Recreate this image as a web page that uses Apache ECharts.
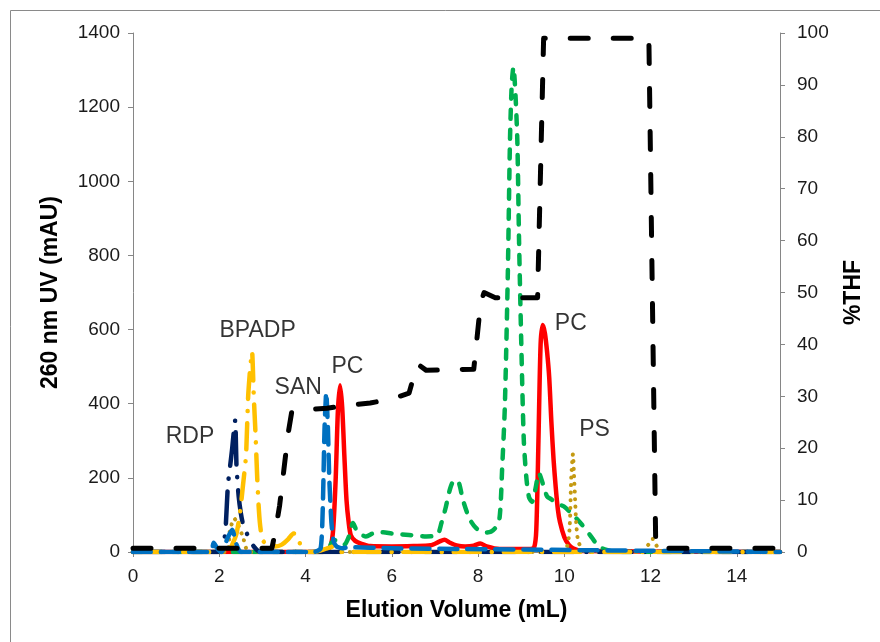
<!DOCTYPE html>
<html>
<head>
<meta charset="utf-8">
<script src="https://cdn.jsdelivr.net/npm/echarts@6/dist/echarts.min.js"></script>
<style>
html,body{margin:0;padding:0;background:#fff;}
#chart{width:880px;height:642px;}
</style>
</head>
<body>
<div id="chart"></div>
<script>
// ---- Data (elution volume in mL, UV in mAU, THF in %) ----
const xTicks = [0, 2, 4, 6, 8, 10, 12, 14];

const rdpX = [0, 1.95, 2.05, 2.1, 2.15, 2.2, 2.25, 2.3, 2.35, 2.37, 2.4, 2.45, 2.5, 2.55, 2.62, 2.7, 2.8, 2.95, 15];
const rdpY = [0, 0, 5, 15, 70, 180, 230, 280, 340, 356, 230, 150, 105, 75, 55, 35, 15, 0, 0];

const bpadpX = [0, 2.2, 2.3, 2.4, 2.48, 2.55, 2.62, 2.67, 2.72, 2.76, 2.8, 2.84, 2.88, 2.92, 2.96, 3.02, 3.1, 3.2, 3.3, 3.45, 3.6, 3.72, 3.82, 3.9, 4.0, 4.2, 4.5, 4.65, 4.8, 15];
const bpadpY = [0, 0, 20, 50, 105, 180, 260, 420, 500, 540, 420, 320, 200, 110, 60, 30, 20, 25, 15, 20, 35, 50, 45, 10, 0, 0, 10, 15, 0, 0];

const sanX = [0, 1.8, 1.87, 1.95, 2.05, 2.2, 2.3, 2.4, 2.5, 4.2, 4.35, 4.4, 4.44, 4.48, 4.52, 4.55, 4.6, 4.65, 4.72, 4.85, 5.0, 6.0, 15];
const sanY = [0, 0, 25, 10, 0, 40, 60, 20, 0, 0, 10, 120, 330, 430, 330, 200, 80, 30, 15, 10, 13, 10, 0];

const pcX = [0, 4.4, 4.5, 4.58, 4.64, 4.7, 4.75, 4.8, 4.85, 4.9, 4.95, 5.0, 5.05, 5.15, 5.3, 5.5, 6.0, 6.5, 6.9, 7.1, 7.22, 7.35, 7.5, 7.7, 7.9, 8.05, 8.2, 8.5, 9.2, 9.3, 9.35, 9.4, 9.45, 9.5, 9.55, 9.6, 9.65, 9.7, 9.75, 9.8, 9.85, 9.9, 10.0, 10.1, 10.2, 10.4, 15];
const pcY = [0, 0, 5, 15, 60, 200, 380, 450, 390, 260, 140, 80, 45, 30, 22, 16, 15, 16, 18, 28, 33, 25, 18, 15, 17, 23, 15, 8, 8, 12, 60, 300, 560, 612, 590, 540, 470, 350, 250, 175, 115, 80, 40, 20, 10, 3, 0];

const mixX = [0, 4.5, 4.6, 4.7, 4.8, 4.9, 5.0, 5.1, 5.2, 5.4, 5.6, 5.8, 6.0, 6.4, 6.8, 7.05, 7.15, 7.25, 7.35, 7.45, 7.55, 7.65, 7.8, 7.95, 8.15, 8.3, 8.4, 8.5, 8.56, 8.62, 8.69, 8.74, 8.78, 8.82, 8.86, 8.91, 8.95, 9.0, 9.06, 9.12, 9.18, 9.25, 9.33, 9.41, 9.5, 9.6, 9.7, 9.85, 10.0, 10.2, 10.4, 10.6, 10.8, 11.0, 11.2, 15];
const mixY = [0, 0, 25, 32, 25, 20, 40, 78, 55, 42, 52, 53, 50, 46, 42, 45, 78, 120, 170, 194, 188, 140, 90, 65, 52, 55, 65, 94, 230, 390, 752, 1111, 1260, 1308, 1250, 1111, 841, 572, 302, 200, 148, 135, 170, 213, 185, 150, 142, 130, 122, 100, 75, 45, 15, 5, 0, 0];

const psX = [0, 2.15, 2.25, 2.35, 2.45, 2.55, 2.7, 9.9, 10.05, 10.12, 10.16, 10.2, 10.22, 10.25, 10.28, 10.32, 10.4, 10.5, 11.8, 11.95, 12.05, 12.15, 12.3, 15];
const psY = [0, 0, 60, 90, 70, 40, 0, 0, 10, 60, 200, 264, 220, 140, 70, 30, 10, 0, 0, 20, 35, 15, 0, 0];

const thfX = [0, 3.22, 3.3, 3.4, 3.5, 3.6, 3.68, 4.0, 4.5, 5.0, 5.5, 6.0, 6.4, 6.48, 6.6, 6.8, 7.9, 8.06, 8.14, 8.4, 9.38, 9.52, 11.96, 12.12, 15];
const thfY = [0.7, 0.7, 4, 9, 16, 23, 27, 27.4, 27.7, 28.3, 28.7, 29.5, 30.6, 33, 36.2, 35, 35.2, 48, 50, 49, 49, 99, 99, 0.7, 0.7];

const labelText = ['RDP', 'BPADP', 'SAN', 'PC', 'PC', 'PS'];
const labelX = [1.32, 2.89, 3.83, 4.97, 10.15, 10.7];
const labelY = [310, 596, 442, 499, 615, 329];

// ---- Chart ----
const zip = (xs, ys) => xs.map((x, i) => [x, ys[i]]);
const FONT = 'Liberation Sans, Arial, sans-serif';

function lineSeries(name, xs, ys, color, type, width, yAxisIndex, smooth, z) {
  return {
    name, type: 'line', yAxisIndex, data: zip(xs, ys),
    showSymbol: false, symbol: 'none', smooth: smooth, z: z,
    lineStyle: { color, width, type, cap: 'round', join: 'round' },
    emphasis: { disabled: true }, silent: true
  };
}

const chart = echarts.init(document.getElementById('chart'), null, { renderer: 'canvas' });
chart.setOption({
  animation: false,
  backgroundColor: '#ffffff',
  textStyle: { fontFamily: FONT },
  graphic: [{
    type: 'rect', x: 10.5, y: 10.5, silent: true,
    shape: { x: 0, y: 0, width: 1000, height: 1000 },
    style: { fill: 'none', stroke: '#8a8a8a', lineWidth: 1 }
  }],
  grid: { left: 133, right: 100, top: 33, bottom: 90, containLabel: false },
  xAxis: {
    type: 'value', min: 0, max: 15, interval: 2,
    name: 'Elution Volume (mL)', nameLocation: 'middle', nameGap: 47,
    nameTextStyle: { fontFamily: FONT, fontSize: 23, fontWeight: 'bold', color: '#000' },
    axisLine: { show: true, onZero: false, lineStyle: { color: '#868686', width: 1 } },
    axisTick: { show: true, inside: false, length: 5, lineStyle: { color: '#868686' }, customValues: xTicks },
    axisLabel: { fontFamily: FONT, fontSize: 19, color: '#1a1a1a', margin: 15, customValues: xTicks, formatter: v => String(v) },
    splitLine: { show: false }
  },
  yAxis: [{
    type: 'value', min: 0, max: 1400, interval: 200, position: 'left',
    name: '260 nm UV (mAU)', nameLocation: 'middle', nameGap: 71, nameRotate: 90,
    nameTextStyle: { fontFamily: FONT, fontSize: 23, fontWeight: 'bold', color: '#000' },
    axisLine: { show: true, lineStyle: { color: '#868686', width: 1 } },
    axisTick: { show: true, inside: false, length: 5, lineStyle: { color: '#868686' } },
    axisLabel: { fontFamily: FONT, fontSize: 19, color: '#1a1a1a', margin: 13, formatter: v => String(v) },
    splitLine: { show: false }
  }, {
    type: 'value', min: 0, max: 100, interval: 10, position: 'right',
    name: '%THF', nameLocation: 'middle', nameGap: 62, nameRotate: 90,
    nameTextStyle: { fontFamily: FONT, fontSize: 23, fontWeight: 'bold', color: '#000' },
    axisLine: { show: true, lineStyle: { color: '#868686', width: 1 } },
    axisTick: { show: true, inside: false, length: 5, lineStyle: { color: '#868686' } },
    axisLabel: { fontFamily: FONT, fontSize: 19, color: '#1a1a1a', margin: 17, formatter: v => String(v) },
    splitLine: { show: false }
  }],
  series: [
    lineSeries('PC', pcX, pcY, '#ff0000', 'solid', 4.5, 0, 0.25, 2),
    lineSeries('Mixture', mixX, mixY, '#00b050', [9, 11], 4.5, 0, 0.25, 3),
    lineSeries('PS', psX, psY, '#c49a12', [0.1, 7.5], 4, 0, 0.25, 4),
    lineSeries('RDP', rdpX, rdpY, '#002060', [32, 13, 0.1, 13], 4.5, 0, 0.2, 5),
    lineSeries('BPADP', bpadpX, bpadpY, '#ffc000', [26, 12, 0.1, 12], 4.5, 0, 0.2, 6),
    lineSeries('SAN', sanX, sanY, '#0070c0', [18, 10], 4.5, 0, 0.2, 7),
    lineSeries('THF', thfX, thfY, '#000000', [18, 25], 5, 1, false, 8),
    {
      name: 'labels', type: 'scatter', yAxisIndex: 0, z: 10, silent: true,
      symbolSize: 1, itemStyle: { color: 'rgba(0,0,0,0)' },
      data: labelText.map((t, i) => ({ name: t, value: [labelX[i], labelY[i]] })),
      label: { show: true, position: 'inside', formatter: p => p.name,
        fontFamily: FONT, fontSize: 23, color: '#000', textBorderWidth: 0 }
    }
  ]
});
</script>
</body>
</html>
